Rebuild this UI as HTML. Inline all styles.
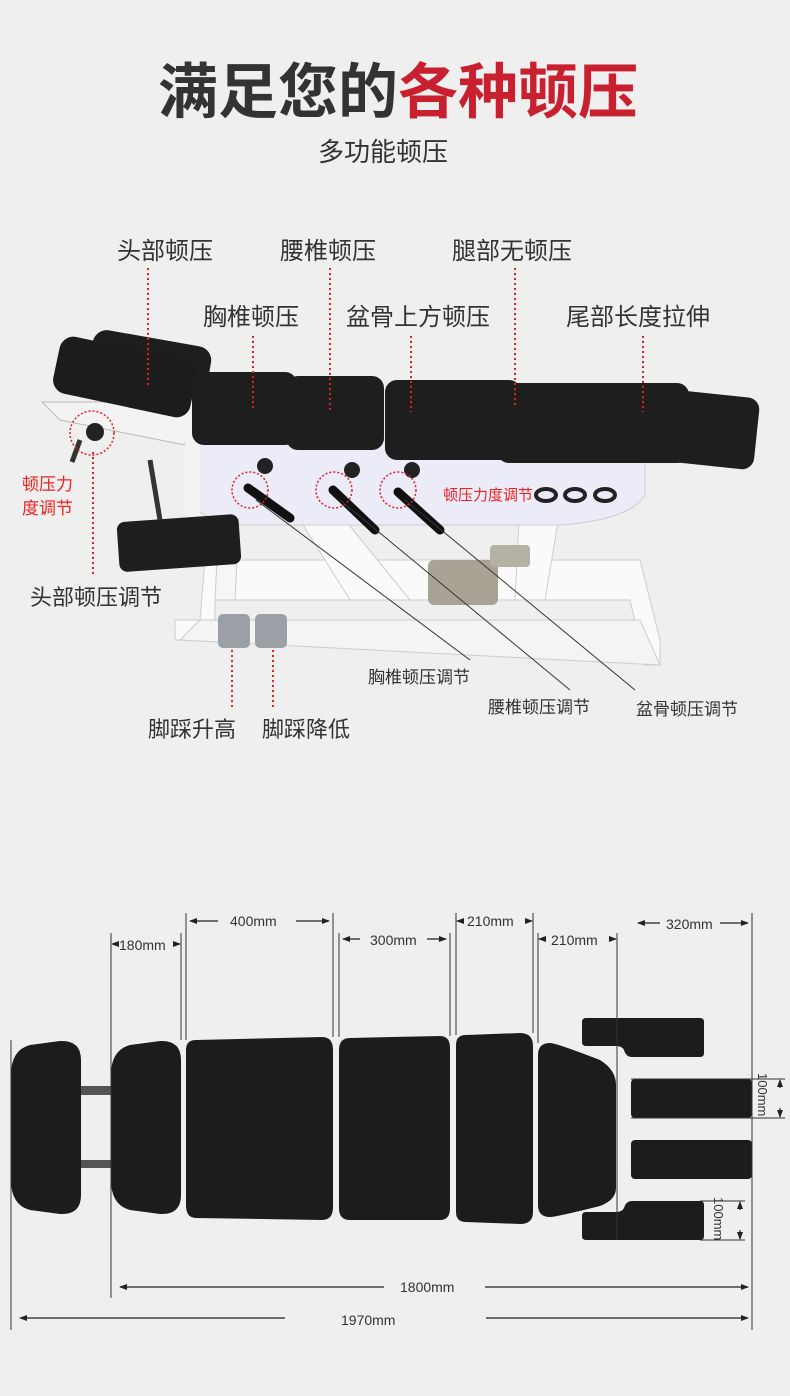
<!DOCTYPE html>
<html><head><meta charset="utf-8"><style>
html,body{margin:0;padding:0;background:#efefef;}
svg{display:block}
text{font-family:"Liberation Sans","Noto Sans CJK SC",sans-serif;}
</style></head><body>
<svg width="790" height="1396" viewBox="0 0 790 1396" xmlns="http://www.w3.org/2000/svg">
<defs>
<marker id="ar" markerWidth="8" markerHeight="8" refX="7" refY="4" orient="auto" markerUnits="userSpaceOnUse"><path d="M0 1 L8 4 L0 7 Z" fill="#222"/></marker>
</defs>
<rect width="790" height="1396" fill="#efefef"/>
<text x="158" y="113" font-size="60" font-weight="bold" fill="#333">满足您的<tspan fill="#c8202f">各种顿压</tspan></text>
<text x="318" y="161" font-size="26" fill="#333">多功能顿压</text>

<g font-size="24" fill="#333">
<text x="117" y="259">头部顿压</text>
<text x="280" y="259">腰椎顿压</text>
<text x="452" y="259">腿部无顿压</text>
<text x="203" y="325">胸椎顿压</text>
<text x="346" y="325">盆骨上方顿压</text>
<text x="566" y="325">尾部长度拉伸</text>
</g>

<g>
<path d="M205 560 L640 560 L660 640 L660 665 L645 665 L630 600 L215 600 L215 640 L175 640 L175 620 L200 620 Z" fill="#fafafa" stroke="#ccc"/>
<path d="M200 620 L640 620 L660 665 L180 640 Z" fill="#f4f4f4" stroke="#ccc"/>
<path d="M300 520 L350 600 L410 600 L345 520 Z" fill="#fafafa" stroke="#ccc"/>
<path d="M520 500 L560 510 L545 600 L515 600 Z" fill="#fafafa" stroke="#ccc"/>
<path d="M218 540 L238 540 L235 600 L215 600 Z" fill="#f6f6f6" stroke="#ccc"/>
<rect x="428" y="560" width="70" height="45" rx="6" fill="#a8a395"/>
<rect x="490" y="545" width="40" height="22" rx="4" fill="#b5b1a4"/>
<rect x="218" y="614" width="32" height="34" rx="5" fill="#9aa0a6"/>
<rect x="255" y="614" width="32" height="34" rx="5" fill="#9aa0a6"/>
<path d="M190 440 L645 440 L645 495 Q630 520 560 525 L240 525 Q195 520 190 495 Z" fill="#ecebf8" stroke="#ccc"/>
<path d="M42 402 L190 402 L185 445 L60 420 Z" fill="#f3f3f3" stroke="#bbb"/>
<path d="M185 400 L200 400 L200 540 L185 540 Z" fill="#f3f3f3"/>
<rect x="118" y="518" width="122" height="50" rx="8" fill="#1e1e1e" transform="rotate(-4 180 543)"/>
<rect x="90" y="338" width="120" height="50" rx="14" fill="#1e1e1e" transform="rotate(10 150 363)"/>
<rect x="55" y="348" width="140" height="58" rx="14" fill="#1c1c1c" transform="rotate(12 125 377)"/>
<circle cx="95" cy="432" r="9" fill="#222"/>
<line x1="80" y1="440" x2="72" y2="462" stroke="#333" stroke-width="5"/>
<line x1="150" y1="460" x2="160" y2="520" stroke="#333" stroke-width="5"/>
<rect x="192" y="372" width="105" height="73" rx="12" fill="#1e1e1e"/>
<rect x="286" y="376" width="98" height="74" rx="12" fill="#1e1e1e"/>
<rect x="385" y="380" width="136" height="80" rx="12" fill="#1e1e1e"/>
<rect x="497" y="383" width="192" height="80" rx="12" fill="#1e1e1e"/>
<rect x="632" y="392" width="125" height="72" rx="12" fill="#1e1e1e" transform="rotate(6 694 428)"/>
<circle cx="265" cy="466" r="8" fill="#222"/><circle cx="352" cy="470" r="8" fill="#222"/><circle cx="412" cy="470" r="8" fill="#222"/>
<line x1="248" y1="488" x2="290" y2="518" stroke="#111" stroke-width="9" stroke-linecap="round"/>
<line x1="333" y1="490" x2="375" y2="530" stroke="#111" stroke-width="9" stroke-linecap="round"/>
<line x1="398" y1="492" x2="440" y2="530" stroke="#111" stroke-width="9" stroke-linecap="round"/>
<ellipse cx="546" cy="495" rx="10" ry="6" fill="none" stroke="#222" stroke-width="4"/>
<ellipse cx="575" cy="495" rx="10" ry="6" fill="none" stroke="#222" stroke-width="4"/>
<ellipse cx="605" cy="495" rx="10" ry="6" fill="none" stroke="#222" stroke-width="4"/>
<circle cx="92" cy="433" r="22" fill="none" stroke="#d22" stroke-width="1.5" stroke-dasharray="2 2"/>
<circle cx="250" cy="490" r="18" fill="none" stroke="#d22" stroke-width="1.5" stroke-dasharray="2 2"/>
<circle cx="334" cy="490" r="18" fill="none" stroke="#d22" stroke-width="1.5" stroke-dasharray="2 2"/>
<circle cx="398" cy="490" r="18" fill="none" stroke="#d22" stroke-width="1.5" stroke-dasharray="2 2"/>
</g>
<g stroke="#d22" stroke-width="2" stroke-dasharray="2 3" fill="none">
<line x1="148" y1="268" x2="148" y2="388"/>
<line x1="330" y1="268" x2="330" y2="412"/>
<line x1="515" y1="268" x2="515" y2="405"/>
<line x1="253" y1="336" x2="253" y2="410"/>
<line x1="411" y1="336" x2="411" y2="412"/>
<line x1="643" y1="336" x2="643" y2="412"/>
<line x1="93" y1="452" x2="93" y2="575"/>
<line x1="232" y1="650" x2="232" y2="710"/>
<line x1="273" y1="650" x2="273" y2="710"/>
</g>
<g stroke="#333" stroke-width="1" fill="none">
<line x1="256" y1="500" x2="470" y2="660"/>
<line x1="340" y1="500" x2="570" y2="690"/>
<line x1="405" y1="500" x2="635" y2="690"/>
</g>
<g font-size="17" fill="#e22">
<text x="22" y="490">顿压力</text><text x="22" y="514">度调节</text>
<text x="443" y="500" font-size="15">顿压力度调节</text>
</g>
<g fill="#333">
<text x="30" y="605" font-size="22">头部顿压调节</text>
<text x="368" y="683" font-size="17">胸椎顿压调节</text>
<text x="488" y="713" font-size="17">腰椎顿压调节</text>
<text x="636" y="715" font-size="17">盆骨顿压调节</text>
<text x="148" y="737" font-size="22">脚踩升高</text>
<text x="262" y="737" font-size="22">脚踩降低</text>
</g>

<g fill="#1c1c1c">
<path d="M11 1075 Q11 1050 30 1045 L60 1041 Q81 1040 81 1060 L81 1195 Q81 1215 60 1214 L30 1210 Q11 1205 11 1180 Z"/>
<rect x="81" y="1086" width="30" height="9" fill="#555"/>
<rect x="81" y="1160" width="30" height="8" fill="#555"/>
<path d="M111 1075 Q111 1050 130 1045 L160 1041 Q181 1040 181 1060 L181 1195 Q181 1215 160 1214 L130 1210 Q111 1205 111 1180 Z"/>
<path d="M186 1050 Q186 1040 196 1040 L322 1037 Q333 1037 333 1050 L333 1207 Q333 1220 322 1220 L196 1218 Q186 1218 186 1205 Z"/>
<path d="M339 1050 Q339 1038 350 1038 L440 1036 Q450 1036 450 1048 L450 1208 Q450 1220 440 1220 L350 1220 Q339 1220 339 1208 Z"/>
<path d="M456 1045 Q456 1035 466 1035 L520 1033 Q533 1033 533 1046 L533 1212 Q533 1224 520 1224 L466 1222 Q456 1222 456 1212 Z"/>
<path d="M538 1055 Q538 1043 550 1043 Q556 1043 600 1060 Q616 1070 616 1085 L616 1188 Q616 1200 600 1206 Q556 1217 550 1217 Q538 1217 538 1205 Z"/>
<path d="M582 1022 Q582 1018 586 1018 L700 1018 Q704 1018 704 1022 L704 1053 Q704 1057 700 1057 L632 1057 Q626 1057 624 1050 Q622 1046 616 1046 L586 1046 Q582 1046 582 1042 Z"/>
<rect x="631" y="1079" width="121" height="39" rx="4"/>
<rect x="631" y="1140" width="121" height="39" rx="4"/>
<path d="M582 1216 Q582 1212 586 1212 L616 1212 Q622 1212 624 1208 Q626 1201 632 1201 L700 1201 Q704 1201 704 1205 L704 1236 Q704 1240 700 1240 L586 1240 Q582 1240 582 1236 Z"/>
</g>
<g stroke="#333" stroke-width="1" fill="none">
<line x1="11" y1="1040" x2="11" y2="1330"/>
<line x1="111" y1="933" x2="111" y2="1298"/>
<line x1="181" y1="933" x2="181" y2="1040"/>
<line x1="186" y1="913" x2="186" y2="1040"/>
<line x1="333" y1="913" x2="333" y2="1037"/>
<line x1="339" y1="933" x2="339" y2="1037"/>
<line x1="450" y1="933" x2="450" y2="1036"/>
<line x1="456" y1="913" x2="456" y2="1035"/>
<line x1="533" y1="913" x2="533" y2="1033"/>
<line x1="538" y1="933" x2="538" y2="1043"/>
<line x1="617" y1="933" x2="617" y2="1240"/>
<line x1="752" y1="913" x2="752" y2="1330"/>
<line x1="631" y1="1079" x2="785" y2="1079"/>
<line x1="631" y1="1118" x2="785" y2="1118"/>
<line x1="700" y1="1201" x2="745" y2="1201"/>
<line x1="700" y1="1240" x2="745" y2="1240"/>
</g>
<g stroke="#222" stroke-width="1.2" fill="none" marker-end="url(#ar)">
<line x1="218" y1="921" x2="190" y2="921"/><line x1="296" y1="921" x2="329" y2="921"/>
<line x1="360" y1="939" x2="343" y2="939"/><line x1="427" y1="939" x2="446" y2="939"/>
<line x1="660" y1="923" x2="638" y2="923"/><line x1="720" y1="923" x2="748" y2="923"/>
<line x1="384" y1="1287" x2="120" y2="1287"/><line x1="485" y1="1287" x2="748" y2="1287"/>
<line x1="285" y1="1318" x2="20" y2="1318"/><line x1="486" y1="1318" x2="748" y2="1318"/>
<line x1="117" y1="944" x2="112" y2="944"/><line x1="176" y1="944" x2="180" y2="944"/>
<line x1="461" y1="921" x2="457" y2="921"/><line x1="528" y1="921" x2="532" y2="921"/>
<line x1="543" y1="939" x2="539" y2="939"/><line x1="612" y1="939" x2="616" y2="939"/>
<line x1="780" y1="1088" x2="780" y2="1080"/><line x1="780" y1="1108" x2="780" y2="1117"/>
<line x1="740" y1="1210" x2="740" y2="1202"/><line x1="740" y1="1230" x2="740" y2="1239"/>
</g>
<g fill="#333" font-size="14">
<text x="119" y="950">180mm</text>
<text x="230" y="926">400mm</text>
<text x="370" y="945">300mm</text>
<text x="467" y="926">210mm</text>
<text x="551" y="945">210mm</text>
<text x="666" y="929">320mm</text>
<text x="400" y="1292">1800mm</text>
<text x="341" y="1325">1970mm</text>
<text transform="translate(758 1073) rotate(90)" font-size="13">100mm</text>
<text transform="translate(714 1197) rotate(90)" font-size="13">100mm</text>
</g>
</svg>
</body></html>
